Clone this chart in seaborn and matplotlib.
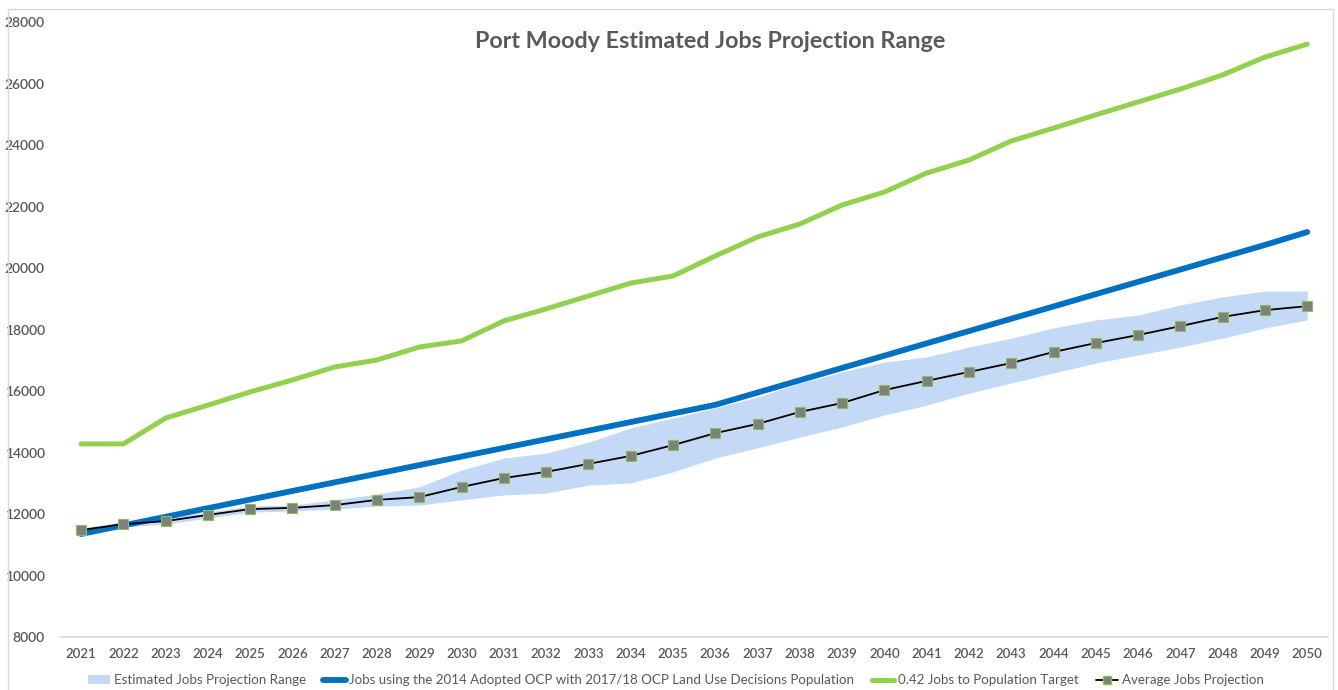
import numpy as np
import pandas as pd
import matplotlib.pyplot as plt
import seaborn as sns
from matplotlib.patches import Patch, Rectangle
from matplotlib.lines import Line2D

years = list(range(2021, 2051))

# 0.42 jobs to population target
target = [14280, 14280, 15120, 15540, 15970, 16360, 16780, 17010, 17430, 17630,
          18280, 18670, 19090, 19510, 19740, 20390, 21010, 21430, 22050, 22470,
          23090, 23510, 24130, 24550, 24980, 25400, 25820, 26280, 26860, 27280]

# jobs using 2014 OCP with 2017/18 land use decisions
ocp_jobs = [11350, 11630, 11910, 12190, 12470, 12750, 13030, 13310, 13590, 13870,
            14150, 14430, 14710, 14990, 15270, 15550, 15950, 16350, 16750, 17150,
            17550, 17950, 18350, 18750, 19150, 19550, 19950, 20350, 20750, 21170]

# average jobs projection
average = [11480, 11670, 11770, 11970, 12160, 12200, 12290, 12460, 12550, 12880,
           13170, 13370, 13630, 13890, 14240, 14630, 14930, 15320, 15610, 16030,
           16330, 16620, 16910, 17270, 17560, 17820, 18110, 18410, 18630, 18760]

# estimated range (upper / lower)
range_hi = [11540, 11740, 11900, 12060, 12260, 12290, 12460, 12650, 12880, 13430,
            13820, 13980, 14340, 14800, 15120, 15450, 15800, 16260, 16620, 16940,
            17110, 17430, 17720, 18050, 18310, 18470, 18800, 19060, 19250, 19250]
range_lo = [11380, 11580, 11670, 11870, 12060, 12100, 12160, 12260, 12290, 12460,
            12620, 12680, 12940, 13010, 13370, 13820, 14150, 14500, 14830, 15220,
            15540, 15930, 16260, 16590, 16910, 17170, 17430, 17720, 18050, 18310]

df = pd.DataFrame({'year': years, 'target': target, 'ocp': ocp_jobs,
                   'avg': average, 'hi': range_hi, 'lo': range_lo})

sns.set_theme(style='white')
plt.rcParams['font.family'] = ['Lato', 'DejaVu Sans']

GREY = '#595959'
BAND = '#c3d9f5'
BLUE = '#0070c0'
GREEN = '#92d050'

fig = plt.figure(figsize=(13.38, 6.9), dpi=100)
ax = fig.add_axes([0.0448, 0.0768, 0.948, 0.8913])

ax.fill_between(df['year'], df['lo'], df['hi'], color=BAND, lw=0, zorder=1)
sns.lineplot(data=df, x='year', y='ocp', ax=ax, color=BLUE, lw=4.2,
             solid_capstyle='round', zorder=3)
sns.lineplot(data=df, x='year', y='target', ax=ax, color=GREEN, lw=3.6,
             solid_capstyle='round', zorder=3)
sns.lineplot(data=df, x='year', y='avg', ax=ax, color='black', lw=1.3,
             marker='s', markersize=6.5, markerfacecolor='#7f7f7f',
             markeredgecolor='#8cc152', markeredgewidth=0.8, zorder=4)

ax.set_xlim(2020.5, 2050.5)
ax.set_ylim(8000, 28000)
ax.set_xticks(years)
ax.set_xticklabels([str(y) for y in years])
ax.set_yticks(range(8000, 28001, 2000))
ax.tick_params(axis='both', labelsize=9.5, labelcolor=GREY, length=0)
ax.tick_params(axis='y', labelsize=10)
ax.tick_params(axis='x', pad=8)
ax.tick_params(axis='y', pad=11)
for lbl in ax.get_xticklabels() + ax.get_yticklabels():
    lbl.set_fontweight('semibold')
ax.set_xlabel('')
ax.set_ylabel('')
for s in ['left', 'right', 'top']:
    ax.spines[s].set_visible(False)
ax.spines['bottom'].set_color('#d9d9d9')
ax.spines['bottom'].set_linewidth(1.2)

fig.text(0.531, 0.94, 'Port Moody Estimated Jobs Projection Range',
         ha='center', va='center', fontsize=16.8, fontweight='bold', color=GREY)

handles = [
    Patch(facecolor=BAND, edgecolor='none'),
    Line2D([], [], color=BLUE, lw=4.2),
    Line2D([], [], color=GREEN, lw=3.6),
    Line2D([], [], color='black', lw=1.3, marker='s', markersize=6,
           markerfacecolor='#7f7f7f', markeredgecolor='#8cc152'),
]
labels = ['Estimated Jobs Projection Range',
          'Jobs using the 2014 Adopted OCP with 2017/18 OCP Land Use Decisions Population',
          '0.42 Jobs to Population Target',
          'Average Jobs Projection']
fig.legend(handles, labels, loc='center', bbox_to_anchor=(0.505, 0.014),
           ncol=4, frameon=False, fontsize=9.6, labelcolor=GREY,
           handlelength=1.7, handletextpad=0.25, columnspacing=1.3)

fig.patches.append(Rectangle((0.006, -0.01), 0.99, 0.997, transform=fig.transFigure,
                             fill=False, edgecolor='#d9d9d9', lw=1))

fig.savefig('out.png', dpi=100)
